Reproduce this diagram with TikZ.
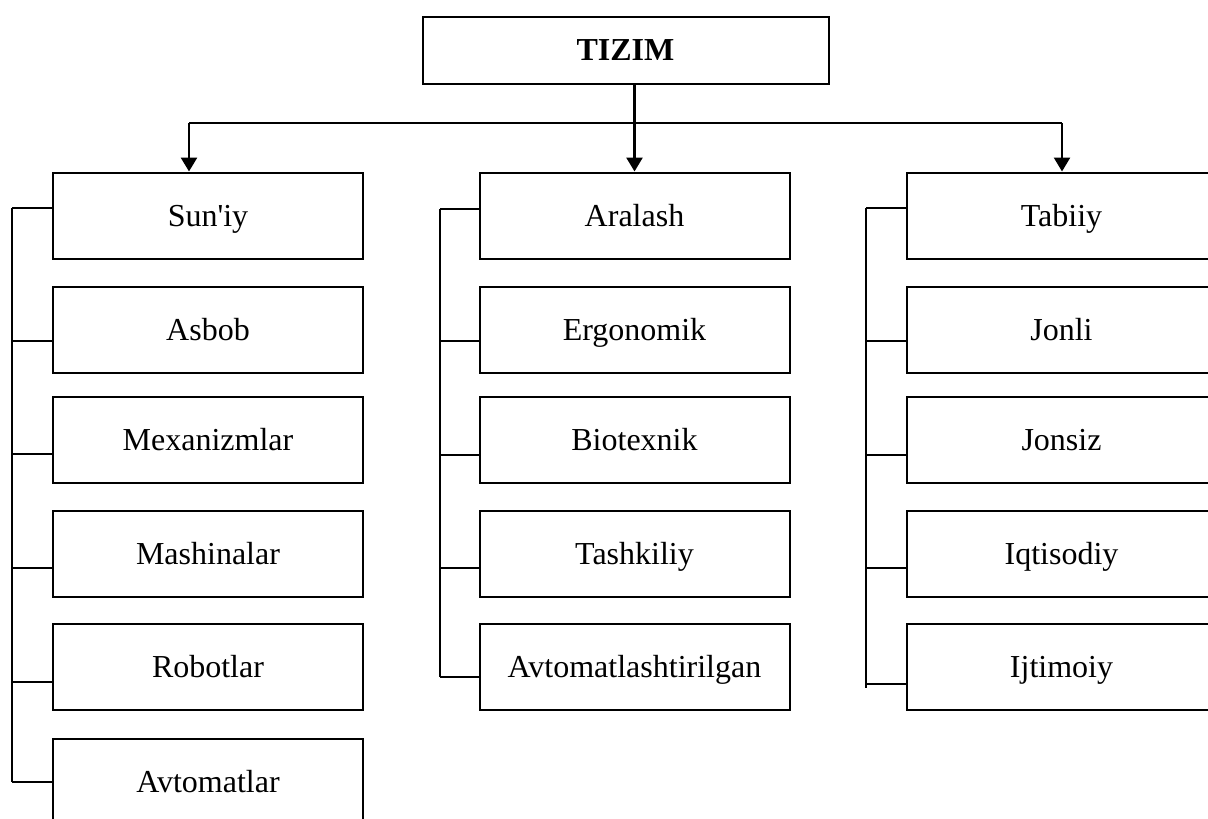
\documentclass[tikz,border=0pt]{standalone}
\usepackage{fontspec}
\newfontfamily\tnr{Liberation Serif}
\usetikzlibrary{arrows.meta}
\tikzset{
  box/.style={draw, line width=2pt, inner sep=0pt, minimum width=310pt, minimum height=86pt, text height=21pt, text depth=0pt, font=\tnr\fontsize{32}{38}\selectfont},
  topbox/.style={draw, line width=2pt, inner sep=0pt, minimum width=406pt, minimum height=67pt, text height=21pt, text depth=0pt, font=\tnr\fontsize{32}{38}\selectfont\bfseries},
  link/.style={line width=2pt},
  arr/.style={line width=2.6pt, -{Triangle[length=14pt,width=16pt]}},
}
\begin{document}
\begin{tikzpicture}[x=1pt,y=-1pt]
\useasboundingbox (0,0) rectangle (1208,819);
\clip (0,0) rectangle (1208,819);
% top
\node[topbox] (t) at (625.5,50) {TIZIM};
% column 1
\node[box] (a1) at (208,215.5) {Sun'iy};
\node[box] (a2) at (208,330) {Asbob};
\node[box] (a3) at (208,440) {Mexanizmlar};
\node[box] (a4) at (208,553.5) {Mashinalar};
\node[box] (a5) at (208,666.5) {Robotlar};
\node[box] (a6) at (208,781.5) {Avtomatlar};
% column 2
\node[box] (b1) at (634.5,215.5) {Aralash};
\node[box] (b2) at (634.5,330) {Ergonomik};
\node[box] (b3) at (634.5,440) {Biotexnik};
\node[box] (b4) at (634.5,553.5) {Tashkiliy};
\node[box] (b5) at (634.5,666.5) {Avtomatlashtirilgan};
% column 3
\node[box] (c1) at (1061.5,215.5) {Tabiiy};
\node[box] (c2) at (1061.5,330) {Jonli};
\node[box] (c3) at (1061.5,440) {Jonsiz};
\node[box] (c4) at (1061.5,553.5) {Iqtisodiy};
\node[box] (c5) at (1061.5,666.5) {Ijtimoiy};
% top distribution
\coordinate (hl) at (189,123);
\coordinate (hm) at (634.5,123);
\coordinate (hr) at (1062,123);
\draw[link] (hl) -- (hr);
\draw[arr] (t.south -| hm) -- (b1.north);
\draw[arr] (hl) -- (hl |- a1.north);
\draw[arr] (hr) -- (hr |- c1.north);
% bracket column 1
\coordinate (ja1) at (12,208);
\coordinate (ja2) at (12,341);
\coordinate (ja3) at (12,454);
\coordinate (ja4) at (12,568);
\coordinate (ja5) at (12,682);
\coordinate (ja6) at (12,782);
\draw[link] (ja1) -- (ja6);
\foreach \i in {1,...,6} \draw[link] (ja\i) -- (ja\i -| a\i.west);
% bracket column 2
\coordinate (jb1) at (440,209);
\coordinate (jb2) at (440,341);
\coordinate (jb3) at (440,455);
\coordinate (jb4) at (440,568);
\coordinate (jb5) at (440,677);
\draw[link] (jb1) -- (jb5);
\foreach \i in {1,...,5} \draw[link] (jb\i) -- (jb\i -| b\i.west);
% bracket column 3
\coordinate (jc1) at (866,208);
\coordinate (jc2) at (866,341);
\coordinate (jc3) at (866,455);
\coordinate (jc4) at (866,568);
\coordinate (jc5) at (866,684);
\draw[link] (jc1) -- (866,688);
\foreach \i in {1,...,5} \draw[link] (jc\i) -- (jc\i -| c\i.west);
\end{tikzpicture}
\end{document}
